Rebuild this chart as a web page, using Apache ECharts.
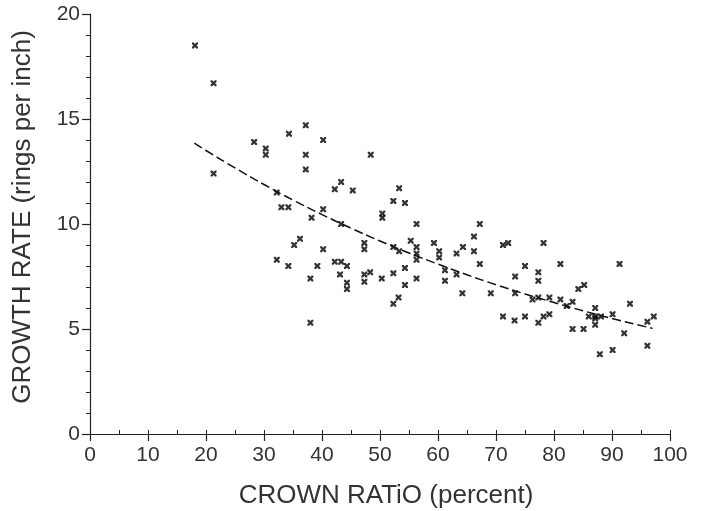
<!DOCTYPE html>
<html>
<head>
<meta charset="utf-8">
<script src="https://cdn.jsdelivr.net/npm/echarts@6/dist/echarts.min.js"></script>
<style>
html,body{margin:0;padding:0;background:#fff;}
#chart{width:703px;height:511px;}
</style>
</head>
<body>
<div id="chart"></div>
<script>
// Observed points (crown ratio %, growth rate rings/inch)
const crownRatio = [
  18.1, 21.3, 21.3, 28.3, 30.3, 30.3, 34.3, 37.2, 37.2, 37.2, 40.2, 42.2, 43.3, 32.2,
  48.4, 45.3, 53.3, 52.3, 54.3, 33.0, 34.2, 40.2, 38.2, 43.3, 50.4, 50.4, 47.3, 47.3,
  36.2, 35.2, 40.2, 52.3, 53.3, 55.3, 34.2, 39.2, 42.2, 43.3, 44.3, 54.3,
  38.0, 43.1, 44.3, 44.3, 47.3, 48.3, 47.3, 50.3, 52.3, 54.3, 53.2, 52.3, 38.0, 32.2,
  56.3, 67.2, 66.2, 56.3, 59.3, 64.3, 63.2, 66.2, 60.2, 56.3, 56.3, 60.2, 71.2, 72.1,
  67.2, 61.2, 63.2, 56.3, 61.2, 73.3, 75.0, 64.2, 69.1, 73.3, 71.2, 73.2, 75.0,
  78.2, 81.1, 77.3, 77.3, 91.3, 84.2, 85.2, 76.3, 77.3, 79.2, 81.1, 83.2, 82.2, 87.1,
  93.1, 86.0, 87.1, 87.1, 88.1, 90.1, 87.1, 77.3, 78.2, 79.2, 96.1, 97.2, 83.2, 85.1,
  92.1, 96.1, 90.1, 87.9
];
const growthRate = [
  18.5, 16.7, 12.4, 13.9, 13.6, 13.3, 14.3, 14.7, 13.3, 12.6, 14.0, 11.65, 12.0, 11.5,
  13.3, 11.6, 11.7, 11.1, 11.0, 10.8, 10.8, 10.7, 10.3, 10.0, 10.5, 10.3, 9.1, 8.8,
  9.3, 9.0, 8.8, 8.9, 8.7, 9.2, 8.0, 8.0, 8.2, 8.2, 8.0, 7.9,
  7.4, 7.6, 7.2, 6.9, 7.6, 7.7, 7.25, 7.4, 7.65, 7.1, 6.5, 6.2, 5.3, 8.3,
  10.0, 10.0, 9.4, 8.9, 9.1, 8.9, 8.6, 8.7, 8.7, 8.6, 8.3, 8.4, 9.0, 9.1,
  8.1, 7.8, 7.6, 7.4, 7.3, 7.5, 8.0, 6.7, 6.7, 6.7, 5.6, 5.4, 5.6,
  9.1, 8.1, 7.7, 7.3, 8.1, 6.9, 7.1, 6.4, 6.5, 6.5, 6.4, 6.3, 6.1, 6.0,
  6.2, 5.6, 5.6, 5.5, 5.6, 5.7, 5.2, 5.3, 5.6, 5.7, 5.35, 5.6, 5.0, 5.0,
  4.8, 4.2, 4.0, 3.8
];
// Fitted (dashed) curve
const fitX = [18, 20, 25, 30, 35, 40, 45, 50, 55, 60, 65, 70, 75, 80, 85, 90, 97];
const fitY = [13.85, 13.50, 12.67, 11.88, 11.14, 10.45, 9.80, 9.19, 8.62, 8.09, 7.58, 7.11, 6.67, 6.26, 5.87, 5.50, 5.03];

const xTitle = 'CROWN RATiO (percent)';
const yTitle = 'GROWTH RATE (rings per inch)';

const scatterData = crownRatio.map((x, i) => [x, growthRate[i]]);
const fitData = fitX.map((x, i) => [x, fitY[i]]);

const FONT = 'Liberation Sans';
const INK = '#222';
const xMark = 'path://M0,0L3,0L5,2.5L7,0L10,0L10,3L7.5,5L10,7L10,10L7,10L5,7.5L3,10L0,10L0,7L2.5,5L0,3Z';

const chart = echarts.init(document.getElementById('chart'), null, {renderer: 'canvas'});
chart.setOption({
  backgroundColor: '#fff',
  animation: false,
  grid: {left: 90, right: 33, top: 14, bottom: 77, containLabel: false, outerBoundsMode: 'none'},
  xAxis: [{
    type: 'value', min: 0, max: 100, interval: 10,
    name: xTitle, nameLocation: 'middle', nameGap: 49, nameMoveOverlap: false,
    nameTextStyle: {fontFamily: FONT, fontSize: 26, color: '#333', padding: [0, 0, 0, 12]},
    axisLine: {show: true, lineStyle: {color: INK, width: 1.2}},
    axisTick: {show: true, length: 7, lineStyle: {color: INK, width: 1.2}},
    axisLabel: {fontFamily: FONT, fontSize: 21, color: '#333', margin: 11},
    splitLine: {show: false}
  }, {
    type: 'value', min: 0, max: 100, interval: 5, position: 'bottom',
    axisLine: {show: false},
    axisTick: {show: true, inside: true, length: 4, lineStyle: {color: INK, width: 1}},
    axisLabel: {show: false},
    splitLine: {show: false}
  }],
  yAxis: {
    type: 'value', min: 0, max: 20, interval: 5,
    name: yTitle, nameLocation: 'middle', nameGap: 54, nameRotate: 90, nameMoveOverlap: false,
    nameTextStyle: {fontFamily: FONT, fontSize: 26, color: '#333', padding: [0, 0, 0, 14]},
    axisLine: {show: true, lineStyle: {color: INK, width: 1.2}},
    axisTick: {show: true, length: 8, lineStyle: {color: INK, width: 1.2}},
    minorTick: {show: true, splitNumber: 5, length: 4, lineStyle: {color: INK, width: 1}},
    axisLabel: {fontFamily: FONT, fontSize: 21, color: '#333', margin: 10},
    splitLine: {show: false}
  },
  series: [{
    type: 'scatter',
    xAxisIndex: 0,
    data: scatterData,
    symbol: xMark,
    symbolSize: 6,
    itemStyle: {color: '#000'},
    silent: true
  }, {
    type: 'line',
    xAxisIndex: 0,
    data: fitData,
    smooth: true,
    showSymbol: false,
    lineStyle: {color: '#111', width: 1.5, type: [9, 4]},
    silent: true
  }]
});
</script>
</body>
</html>
